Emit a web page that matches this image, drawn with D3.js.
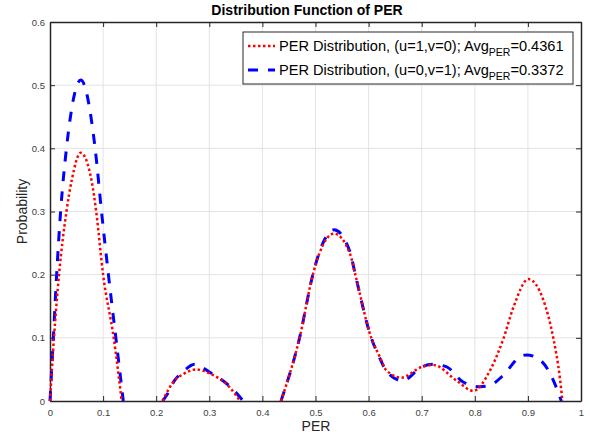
<!DOCTYPE html>
<html>
<head>
<meta charset="utf-8">
<script src="https://cdn.jsdelivr.net/npm/d3@7"></script>
<style>
  body { margin: 0; background: #fff; }
  svg { font-family: 'Liberation Sans', Arial, Helvetica, sans-serif; }
  .tick text { fill: #404040; font-size: 9.5px; }
  .domain { stroke: #262626; }
  .tick line { stroke: #262626; }
  .grid line { stroke: #e3e3e3; stroke-width: 1; }
</style>
</head>
<body>
<svg id="chart" width="590" height="440"></svg>
<script>
// red: (u=1,v=0), null splits the curve where it drops below zero
const redX = [0, 0.0075, 0.017, 0.031, 0.041, 0.058, 0.078, 0.087, 0.100, 0.120, 0.135, 0.17,
  0.212, 0.235, 0.25, 0.275, 0.30, 0.339, 0.358, 0.40,
  0.435, 0.47, 0.495, 0.507, 0.535, 0.565, 0.575, 0.605, 0.621, 0.633, 0.662, 0.70, 0.722,
  0.766, 0.797, 0.829, 0.854, 0.873, 0.901, 0.929, 0.948, 0.960, 0.965];
const redY = [0, 0.1, 0.2, 0.3, 0.35, 0.393, 0.35, 0.3, 0.2, 0.1, 0, null,
  0, 0.033, 0.042, 0.050, 0.044, 0.021, 0, null,
  0, 0.1, 0.2, 0.233, 0.265, 0.233, 0.2, 0.1, 0.07, 0.049, 0.037, 0.054, 0.057,
  0.032, 0.016, 0.049, 0.099, 0.149, 0.193, 0.160, 0.099, 0.038, 0];

// blue: (u=0,v=1)
const blueX = [0, 0.0063, 0.0125, 0.020, 0.031, 0.058, 0.085, 0.097, 0.110, 0.124, 0.138, 0.17,
  0.212, 0.22, 0.235, 0.25, 0.273, 0.30, 0.339, 0.364, 0.40,
  0.435, 0.47, 0.495, 0.507, 0.535, 0.565, 0.575, 0.605, 0.621, 0.633, 0.664, 0.70, 0.722,
  0.747, 0.778, 0.810, 0.829, 0.854, 0.885, 0.897, 0.923, 0.945, 0.963];
const blueY = [0, 0.1, 0.2, 0.3, 0.4, 0.508, 0.4, 0.3, 0.2, 0.1, 0, null,
  0, 0.0095, 0.033, 0.046, 0.058, 0.046, 0.023, 0, null,
  0, 0.1, 0.2, 0.235, 0.271, 0.236, 0.2, 0.1, 0.068, 0.048, 0.032, 0.054, 0.058,
  0.054, 0.030, 0.0225, 0.025, 0.041, 0.070, 0.073, 0.065, 0.038, 0];

const xTicks = [0, 0.1, 0.2, 0.3, 0.4, 0.5, 0.6, 0.7, 0.8, 0.9, 1];
const yTicks = [0, 0.1, 0.2, 0.3, 0.4, 0.5, 0.6];
const legendNames = ['PER Distribution, (u=1,v=0); Avg', 'PER Distribution, (u=0,v=1); Avg'];
const legendAvgs = ['0.4361', '0.3372'];

const margin = { top: 22, right: 9, bottom: 39, left: 50 };
const width = 590, height = 440;

const svg = d3.select('#chart');
const x = d3.scaleLinear().domain([0, 1]).range([margin.left, width - margin.right]);
const y = d3.scaleLinear().domain([0, 0.6]).range([height - margin.bottom, margin.top]);

// grid
const grid = svg.append('g').attr('class', 'grid');
grid.selectAll('line.vx')
  .data(xTicks.slice(1, -1))
  .join('line')
  .attr('x1', d => x(d)).attr('x2', d => x(d))
  .attr('y1', y(0)).attr('y2', y(0.6));
grid.selectAll('line.hy')
  .data(yTicks.slice(1, -1))
  .join('line')
  .attr('x1', x(0)).attr('x2', x(1))
  .attr('y1', d => y(d)).attr('y2', d => y(d));

// axes, MATLAB style: ticks point inward, box on
const fmt = d => d === 0 ? '0' : (d === 1 ? '1' : d3.format('.1f')(d));
svg.append('g')
  .attr('transform', `translate(0,${y(0)})`)
  .call(d3.axisBottom(x).tickValues(xTicks).tickFormat(fmt).tickSizeInner(-5).tickSizeOuter(0).tickPadding(8));
svg.append('g')
  .attr('transform', `translate(0,${y(0.6)})`)
  .call(d3.axisTop(x).tickValues(xTicks).tickFormat('').tickSizeInner(-5).tickSizeOuter(0));
svg.append('g')
  .attr('transform', `translate(${x(0)},0)`)
  .call(d3.axisLeft(y).tickValues(yTicks).tickFormat(fmt).tickSizeInner(-5).tickSizeOuter(0).tickPadding(5));
svg.append('g')
  .attr('transform', `translate(${x(1)},0)`)
  .call(d3.axisRight(y).tickValues(yTicks).tickFormat('').tickSizeInner(-5).tickSizeOuter(0));
svg.selectAll('.domain').attr('stroke-width', 1.5);

// curves
const line = d3.line()
  .defined(d => d[1] !== null)
  .x(d => x(d[0]))
  .y(d => y(d[1]))
  .curve(d3.curveMonotoneX);

const series = [
  { pts: d3.zip(redX, redY), color: '#ff0000', dash: '2.5,2.5', w: 2.5 },
  { pts: d3.zip(blueX, blueY), color: '#0000ff', dash: '10,10', w: 3 },
];
// blue drawn first so the red dots sit on top
svg.append('g').selectAll('path')
  .data([series[1], series[0]])
  .join('path')
  .attr('d', d => line(d.pts))
  .attr('fill', 'none')
  .attr('stroke', d => d.color)
  .attr('stroke-width', d => d.w)
  .attr('stroke-dasharray', d => d.dash);

// labels
svg.append('text')
  .attr('x', 307).attr('y', 15)
  .attr('text-anchor', 'middle')
  .style('font-size', '14px').style('font-weight', 'bold')
  .text('Distribution Function of PER');
svg.append('text')
  .attr('x', 316).attr('y', 431)
  .attr('text-anchor', 'middle')
  .style('font-size', '14px').attr('fill', '#262626')
  .text('PER');
svg.append('text')
  .attr('transform', `translate(27,${(y(0) + y(0.6)) / 2}) rotate(-90)`)
  .attr('text-anchor', 'middle')
  .style('font-size', '14px').attr('fill', '#262626')
  .text('Probability');

// legend
const legend = svg.append('g').attr('transform', 'translate(243,32)');
legend.append('rect')
  .attr('width', 330).attr('height', 52)
  .attr('fill', '#fff').attr('stroke', '#262626').attr('stroke-width', 1);
const row = legend.selectAll('g.row')
  .data(series)
  .join('g')
  .attr('class', 'row')
  .attr('transform', (d, i) => `translate(0,${14 + i * 24})`);
row.append('line')
  .attr('x1', 5).attr('x2', 32)
  .attr('stroke', d => d.color)
  .attr('stroke-width', d => d.w)
  .attr('stroke-dasharray', d => d.dash);
const label = row.append('text')
  .attr('x', 36).attr('y', 5)
  .style('font-size', '14.6px');
label.append('tspan').text((d, i) => legendNames[i]);
label.append('tspan').attr('dy', 5).style('font-size', '10.5px').text('PER');
label.append('tspan').attr('dy', -5).text((d, i) => '=' + legendAvgs[i]);
</script>
</body>
</html>
